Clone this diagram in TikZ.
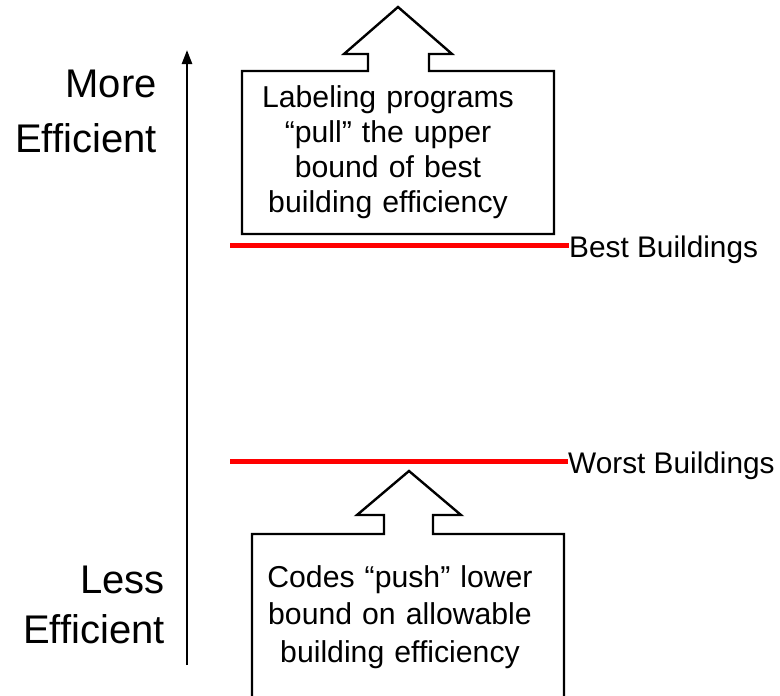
\documentclass[tikz,border=0pt]{standalone}
\usepackage{fontspec}
\setmainfont{Liberation Sans}
\usetikzlibrary{arrows.meta}

\tikzset{
  callout/.style={draw=black, line width=2.4pt, line join=miter, fill=white},
  boundline/.style={draw=red, line width=5pt},
  boundlabel/.style={anchor=base west, inner sep=0pt, font=\fontsize{29.8}{33}\selectfont},
  boxtext/.style={anchor=base, inner sep=0pt, text width=320pt, align=center},
  sidetext/.style={anchor=base east, inner sep=0pt, text width=160pt, align=right,
                   font=\fontsize{40}{50}\selectfont},
  axis/.style={line width=2.5pt, -{Triangle[width=10pt,length=14pt]}}
}

\begin{document}
\begin{tikzpicture}[x=1pt, y=-1pt]
  \useasboundingbox (0,0) rectangle (780,696);

  % efficiency axis
  \coordinate (axisLow) at (187,665);
  \coordinate (axisHigh) at (187,50);
  \draw[axis] (axisLow) -- (axisHigh);

  % side captions
  \node[sidetext, font=\fontsize{40}{55}\selectfont] (more) at (157,97) {More\\Efficient};
  \node[sidetext, font=\fontsize{40}{50}\selectfont] (less) at (165,593) {Less\\Efficient};

  % upper callout: box with an arrow pointing up
  \draw[callout] (242,234) -- (242,71) -- (368,71) -- (368,54) -- (344,54)
    -- (398,7) -- (452,54) -- (429,54) -- (429,71) -- (554,71) -- (554,234) -- cycle;
  \node[boxtext, font=\fontsize{30.2}{35.3}\selectfont] (labeling) at (388,107)
    {Labeling programs\\“pull” the upper\\bound of best\\building efficiency};

  % lower callout: box runs past the bottom edge
  \draw[callout] (252,700) -- (252,534) -- (384,534) -- (384,515) -- (357,515)
    -- (409,471) -- (461,515) -- (433,515) -- (433,534) -- (564,534) -- (564,700);
  \node[boxtext, font=\fontsize{30.2}{37.5}\selectfont] (codes) at (400,587)
    {Codes “push” lower\\bound on allowable\\building efficiency};

  % best and worst building bounds
  \node[boundlabel] (best) at (569,257) {Best Buildings};
  \node[boundlabel] (worst) at (568,473) {Worst Buildings};
  \coordinate (bestStart) at (230,245);
  \coordinate (worstStart) at (230,461);
  \draw[boundline] (bestStart) -- (bestStart -| best.west);
  \draw[boundline] (worstStart) -- (worstStart -| worst.west);
\end{tikzpicture}
\end{document}
